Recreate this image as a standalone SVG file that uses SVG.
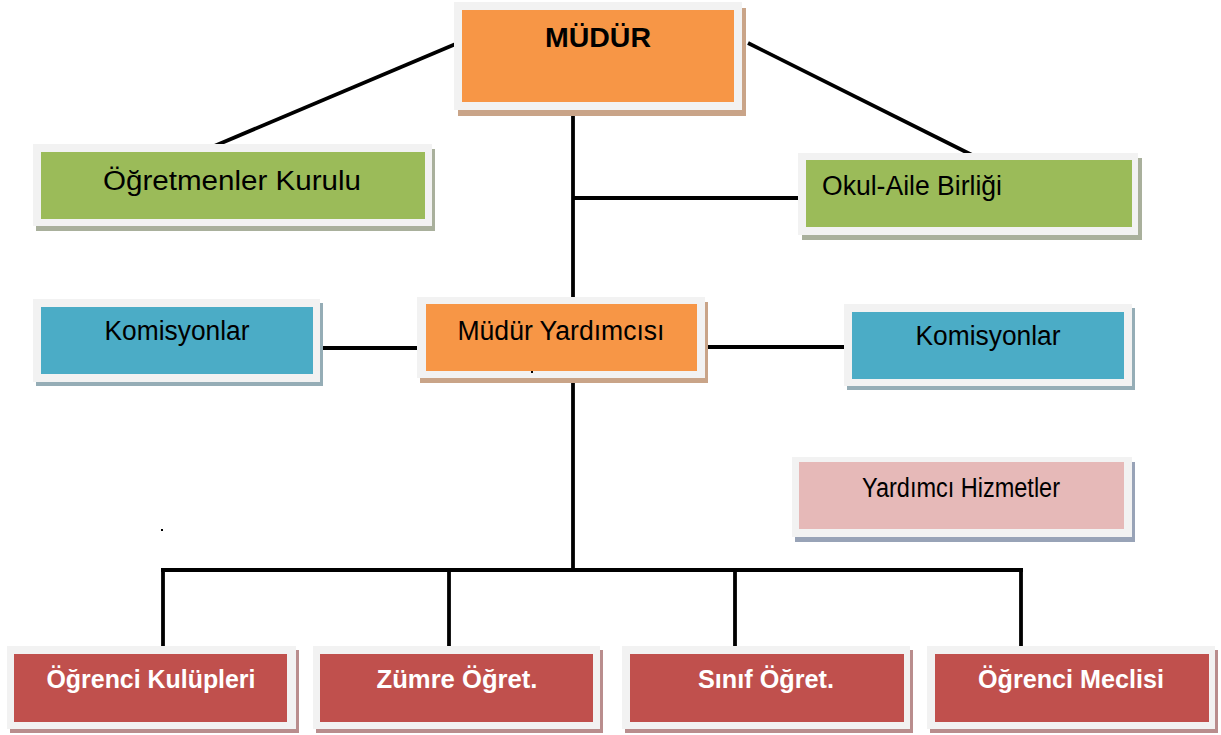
<svg xmlns="http://www.w3.org/2000/svg" width="1221" height="735" viewBox="0 0 1221 735">
<style>
.bg{fill:#ffffff}
.frame{fill:#f2f2f2}
.ln{stroke:#000000;stroke-width:3.8;fill:none;stroke-linecap:butt}
.t{font-family:"Liberation Sans",Arial,sans-serif;font-size:27px;fill:#000000}
.tb{font-family:"Liberation Sans",Arial,sans-serif;font-size:26px;font-weight:bold;fill:#ffffff}
.tm{font-family:"Liberation Sans",Arial,sans-serif;font-size:28px;font-weight:bold;fill:#000000}
.orange{fill:#f79646}.shO{fill:#c9a488}
.green{fill:#9bbb59}.shG{fill:#a9b09c}
.blue{fill:#4bacc6}.shB{fill:#95adb6}
.pink{fill:#e6b9b8}.shP{fill:#98a3b7}
.red{fill:#c0504d}.shR{fill:#b98d8d}
</style>
<rect class="bg" x="0" y="0" width="1221" height="735"/>
<g id="connectors">
<line class="ln" x1="458" y1="43" x2="212" y2="147"/>
<line class="ln" x1="748" y1="43" x2="972" y2="155"/>
<line class="ln" x1="573" y1="112" x2="573" y2="300"/>
<line class="ln" x1="573" y1="198" x2="803" y2="198"/>
<line class="ln" x1="320" y1="348" x2="420" y2="348"/>
<line class="ln" x1="705" y1="347" x2="847" y2="347"/>
<line class="ln" x1="573" y1="380" x2="573" y2="571"/>
<line class="ln" x1="161" y1="570" x2="1023" y2="570"/>
<line class="ln" x1="163" y1="570" x2="163" y2="648"/>
<line class="ln" x1="449" y1="570" x2="449" y2="648"/>
<line class="ln" x1="735" y1="570" x2="735" y2="648"/>
<line class="ln" x1="1021" y1="570" x2="1021" y2="648"/>
</g>
<g id="mudur">
<rect class="shO" x="458" y="8" width="288" height="108"/>
<rect class="frame" x="454" y="2" width="288" height="108"/>
<rect class="orange" x="462" y="10" width="272" height="92"/>
<text class="tm" x="598" y="47" text-anchor="middle" textLength="106" lengthAdjust="spacingAndGlyphs">MÜDÜR</text>
</g>
<g id="ogretmenler-kurulu">
<rect class="shG" x="36" y="149" width="399" height="82"/>
<rect class="frame" x="33" y="144" width="399" height="82"/>
<rect class="green" x="41" y="152" width="384" height="67"/>
<text class="t" x="232" y="190" text-anchor="middle" textLength="258" lengthAdjust="spacingAndGlyphs">Öğretmenler Kurulu</text>
</g>
<g id="okul-aile-birligi">
<rect class="shG" x="802" y="158" width="340" height="82"/>
<rect class="frame" x="798" y="153" width="340" height="82"/>
<rect class="green" x="806" y="160" width="326" height="67"/>
<text class="t" x="822" y="195" textLength="180" lengthAdjust="spacingAndGlyphs">Okul-Aile Birliği</text>
</g>
<g id="komisyonlar-sol">
<rect class="shB" x="36" y="303" width="287" height="83"/>
<rect class="frame" x="33" y="299" width="287" height="83"/>
<rect class="blue" x="41" y="307" width="272" height="67"/>
<text class="t" x="177" y="340" text-anchor="middle" textLength="145" lengthAdjust="spacingAndGlyphs">Komisyonlar</text>
</g>
<g id="mudur-yardimcisi">
<rect class="shO" x="420" y="302" width="288" height="81"/>
<rect class="frame" x="417" y="297" width="288" height="81"/>
<rect class="orange" x="426" y="304" width="271" height="67"/>
<text class="t" x="561" y="340" text-anchor="middle" textLength="207" lengthAdjust="spacingAndGlyphs">Müdür Yardımcısı</text>
<rect x="531" y="371" width="2" height="2" fill="#000000"/>
</g>
<g id="komisyonlar-sag">
<rect class="shB" x="847" y="308" width="288" height="82"/>
<rect class="frame" x="844" y="304" width="288" height="82"/>
<rect class="blue" x="852" y="312" width="272" height="67"/>
<text class="t" x="988" y="345" text-anchor="middle" textLength="145" lengthAdjust="spacingAndGlyphs">Komisyonlar</text>
</g>
<g id="yardimci-hizmetler">
<rect class="shP" x="795" y="462" width="340" height="80"/>
<rect class="frame" x="792" y="457" width="340" height="80"/>
<rect class="pink" x="799" y="462" width="325" height="67"/>
<text class="t" x="961" y="497" text-anchor="middle" textLength="198" lengthAdjust="spacingAndGlyphs">Yardımcı Hizmetler</text>
</g>
<g id="ogrenci-kulupleri">
<rect class="shR" x="10" y="650" width="289" height="83"/>
<rect class="frame" x="7" y="646" width="289" height="83"/>
<rect class="red" x="14" y="654" width="273" height="68"/>
<text class="tb" x="151" y="688" text-anchor="middle" textLength="209" lengthAdjust="spacingAndGlyphs">Öğrenci Kulüpleri</text>
</g>
<g id="zumre-ogret">
<rect class="shR" x="316" y="650" width="287" height="83"/>
<rect class="frame" x="313" y="646" width="287" height="83"/>
<rect class="red" x="320" y="654" width="273" height="68"/>
<text class="tb" x="457" y="688" text-anchor="middle" textLength="161" lengthAdjust="spacingAndGlyphs">Zümre Öğret.</text>
</g>
<g id="sinif-ogret">
<rect class="shR" x="625" y="650" width="288" height="83"/>
<rect class="frame" x="622" y="646" width="288" height="83"/>
<rect class="red" x="630" y="654" width="274" height="68"/>
<text class="tb" x="766" y="688" text-anchor="middle" textLength="136" lengthAdjust="spacingAndGlyphs">Sınıf Öğret.</text>
</g>
<g id="ogrenci-meclisi">
<rect class="shR" x="930" y="650" width="288" height="83"/>
<rect class="frame" x="927" y="646" width="288" height="83"/>
<rect class="red" x="935" y="654" width="274" height="68"/>
<text class="tb" x="1071" y="688" text-anchor="middle" textLength="186" lengthAdjust="spacingAndGlyphs">Öğrenci Meclisi</text>
</g>
<rect x="161" y="529" width="2" height="2" fill="#000000"/>
</svg>
